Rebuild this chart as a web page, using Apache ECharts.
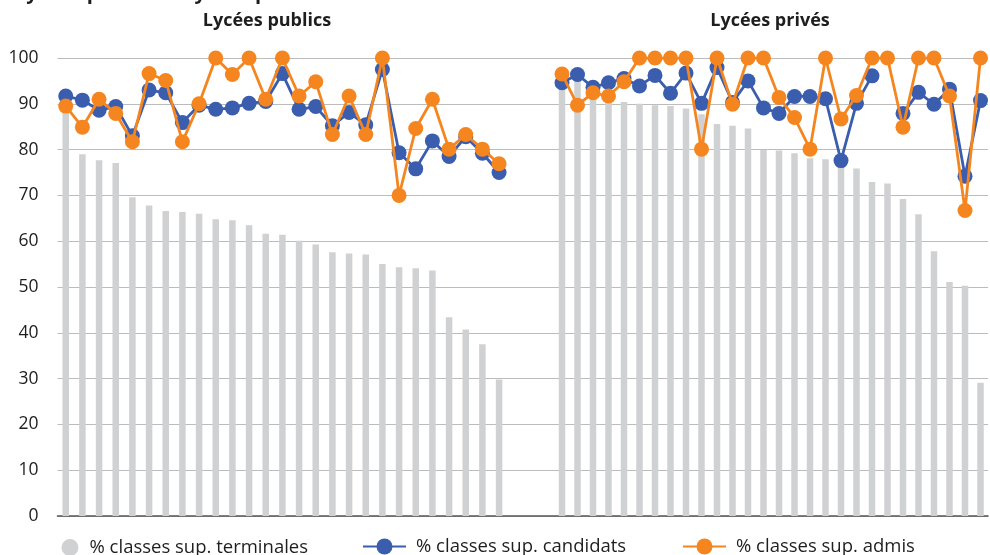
<!DOCTYPE html>
<html>
<head>
<meta charset="utf-8">
<script src="https://cdn.jsdelivr.net/npm/echarts@6/dist/echarts.min.js"></script>
<style>
html,body{margin:0;padding:0;background:#fff;}
#chart{width:990px;height:555px;}
</style>
</head>
<body>
<div id="chart"></div>
<script>
// ---- Data ----
var mainTitle = 'Lycées publics et lycées privés';
var panelTitles = ['Lycées publics', 'Lycées privés'];
var seriesNames = ['% classes sup. terminales', '% classes sup. candidats', '% classes sup. admis'];
var yTicks = [0, 10, 20, 30, 40, 50, 60, 70, 80, 90, 100];

var catsPub = ['P1','P2','P3','P4','P5','P6','P7','P8','P9','P10','P11','P12','P13','P14','P15','P16','P17','P18','P19','P20','P21','P22','P23','P24','P25','P26','P27'];
var terminalesPub = [89.0, 79.0, 77.7, 77.1, 69.6, 67.8, 66.6, 66.4, 66.0, 64.8, 64.6, 63.5, 61.6, 61.4, 60.1, 59.3, 57.6, 57.3, 57.1, 55.0, 54.3, 54.1, 53.6, 43.4, 40.7, 37.5, 29.8];
var candidatsPub  = [91.7, 90.8, 88.6, 89.4, 83.0, 93.0, 92.4, 85.9, 89.7, 88.8, 89.1, 90.1, 90.5, 96.6, 88.8, 89.4, 85.2, 88.1, 85.4, 97.5, 79.3, 75.8, 81.9, 78.5, 82.8, 79.2, 75.0];
var admisPub      = [89.5, 84.9, 91.0, 87.9, 81.7, 96.6, 95.1, 81.7, 90.0, 100, 96.4, 100, 91.0, 100, 91.7, 94.8, 83.3, 91.7, 83.3, 100, 70.0, 84.6, 91.0, 80.1, 83.3, 80.1, 76.9];

var catsPriv = ['R1','R2','R3','R4','R5','R6','R7','R8','R9','R10','R11','R12','R13','R14','R15','R16','R17','R18','R19','R20','R21','R22','R23','R24','R25','R26','R27','R28'];
var terminalesPriv = [96.0, 95.3, 92.0, 90.6, 90.4, 90.0, 89.7, 89.5, 89.0, 87.7, 85.6, 85.2, 84.6, 79.9, 79.8, 79.2, 78.1, 77.9, 77.0, 75.9, 72.9, 72.6, 69.2, 65.9, 57.8, 51.1, 50.3, 29.1];
var candidatsPriv  = [94.6, 96.4, 93.6, 94.6, 95.5, 93.9, 96.2, 92.3, 96.7, 90.1, 97.9, 90.3, 95.0, 89.1, 87.9, 91.6, 91.6, 91.1, 77.6, 90.1, 96.1, null, 87.9, 92.5, 89.9, 93.2, 74.2, 90.7];
var admisPriv      = [96.5, 89.7, 92.4, 91.7, 94.8, 100, 100, 100, 100, 80.1, 100, 89.9, 100, 100, 91.4, 87.0, 80.1, 100, 86.7, 91.8, 100, 100, 84.9, 100, 100, 91.7, 66.7, 100];

// ---- Styles ----
var FONT = '"Open Sans", "Noto Sans", sans-serif';
var GRAY = '#d0d1d3';
var BLUE = '#3a5dad';
var ORANGE = '#f5861f';
var TEXT = '#1e1e1e';

var chart = echarts.init(document.getElementById('chart'), null, {renderer: 'canvas'});

function lineSeries(name, data, color, xi, z) {
  return {
    name: name, type: 'line', data: data,
    xAxisIndex: xi, yAxisIndex: xi,
    symbol: 'circle', symbolSize: 15, showAllSymbol: true,
    lineStyle: {color: color, width: 2.8},
    itemStyle: {color: color},
    z: z, animation: false
  };
}
function barSeries(name, data, xi) {
  return {
    name: name, type: 'bar', data: data,
    xAxisIndex: xi, yAxisIndex: xi,
    barWidth: 6.5,
    itemStyle: {color: GRAY},
    z: 1, animation: false
  };
}

var hiddenY = {type: 'value', min: 0, max: 100, interval: 10, show: false};
var legendText = {fontFamily: FONT, fontSize: 18.5, color: TEXT};

var option = {
  backgroundColor: '#fff',
  animation: false,
  graphic: [
    {type: 'text', left: 15, top: -17, style: {text: mainTitle, font: 'bold 20px ' + FONT, fill: TEXT}},
    {type: 'text', style: {x: 267, y: 21, text: panelTitles[0], font: 'bold 18px ' + FONT, fill: TEXT, align: 'center', verticalAlign: 'middle'}},
    {type: 'text', style: {x: 770, y: 21, text: panelTitles[1], font: 'bold 18px ' + FONT, fill: TEXT, align: 'center', verticalAlign: 'middle'}}
  ],
  grid: [
    {left: 57.5, right: 2, top: 58, height: 458},
    {left: 57.4, width: 450, top: 58, height: 458},
    {left: 554.25, width: 434, top: 58, height: 458}
  ],
  xAxis: [
    {gridIndex: 0, type: 'category', data: [''], axisTick: {show: false}, axisLabel: {show: false},
     axisLine: {show: true, lineStyle: {color: '#555', width: 1.6}}},
    {gridIndex: 1, type: 'category', data: catsPub, show: false},
    {gridIndex: 2, type: 'category', data: catsPriv, show: false}
  ],
  yAxis: [
    {gridIndex: 0, type: 'value', min: yTicks[0], max: yTicks[yTicks.length - 1], interval: 10,
     axisLine: {show: false}, axisTick: {show: false},
     axisLabel: {fontFamily: FONT, fontSize: 17.5, color: TEXT, margin: 19},
     splitLine: {lineStyle: {color: '#bcbcbc', width: 1.2}}},
    Object.assign({gridIndex: 1}, hiddenY),
    Object.assign({gridIndex: 2}, hiddenY)
  ],
  legend: [
    {data: [seriesNames[0]], left: 56.5, top: 533, itemWidth: 23, itemHeight: 17, icon: 'circle',
     textStyle: Object.assign({padding: [0, 0, 0, 3]}, legendText)},
    {data: [seriesNames[1]], left: 357, top: 532, itemWidth: 43, itemHeight: 20,
     textStyle: Object.assign({padding: [0, 0, 0, 5]}, legendText)},
    {data: [seriesNames[2]], left: 677, top: 532, itemWidth: 43, itemHeight: 20,
     textStyle: Object.assign({padding: [0, 0, 0, 5]}, legendText)}
  ],
  series: [
    barSeries(seriesNames[0], terminalesPub, 1),
    lineSeries(seriesNames[1], candidatsPub, BLUE, 1, 3),
    lineSeries(seriesNames[2], admisPub, ORANGE, 1, 4),
    barSeries(seriesNames[0], terminalesPriv, 2),
    lineSeries(seriesNames[1], candidatsPriv, BLUE, 2, 3),
    lineSeries(seriesNames[2], admisPriv, ORANGE, 2, 4)
  ]
};
chart.setOption(option);
</script>
</body>
</html>
